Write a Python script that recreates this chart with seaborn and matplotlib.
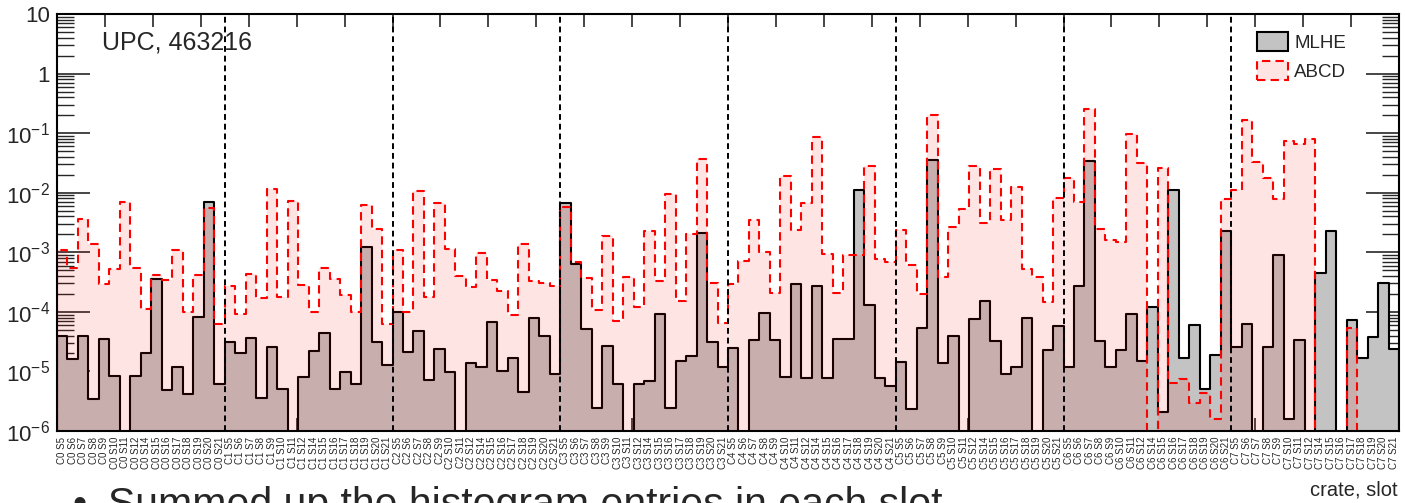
import numpy as np
import pandas as pd
import seaborn as sns
import matplotlib.pyplot as plt
from matplotlib.patches import Patch
from matplotlib.ticker import FixedLocator

# bins: 8 crates x 16 slots
crates = ["C0", "C1", "C2", "C3", "C4", "C5", "C6", "C7"]
slots = ["S5", "S6", "S7", "S8", "S9", "S10", "S11", "S12",
         "S14", "S15", "S16", "S17", "S18", "S19", "S20", "S21"]
labels = [f"{c} {s}" for c in crates for s in slots]

# summed histogram entries per slot (0 = empty bin)
mlhe = [
    4.0e-5, 1.6e-5, 4.0e-5, 3.5e-6, 3.5e-5, 8.5e-6, 0, 8.5e-6, 2.0e-5, 3.6e-4, 4.8e-6, 1.2e-5, 4.2e-6, 8.1e-5, 6.9e-3, 6.2e-6,
    3.1e-5, 2.0e-5, 3.6e-5, 3.6e-6, 2.6e-5, 5.0e-6, 0, 8.0e-6, 2.2e-5, 4.4e-5, 5.0e-6, 9.6e-6, 6.2e-6, 1.25e-3, 3.1e-5, 1.3e-5,
    1.0e-4, 2.1e-5, 4.8e-5, 7.2e-6, 2.4e-5, 9.6e-6, 0, 1.4e-5, 1.2e-5, 6.8e-5, 1.0e-5, 1.7e-5, 4.5e-6, 7.8e-5, 4.0e-5, 9.1e-6,
    6.8e-3, 6.4e-4, 5.2e-5, 2.4e-6, 2.7e-5, 6.1e-6, 0, 6.1e-6, 6.9e-6, 9.1e-5, 2.4e-6, 1.5e-5, 1.8e-5, 2.1e-3, 3.1e-5, 1.2e-5,
    2.5e-5, 0, 3.4e-5, 9.5e-5, 3.4e-5, 8.2e-6, 2.95e-4, 7.7e-6, 2.7e-4, 7.9e-6, 3.5e-5, 3.5e-5, 1.1e-2, 1.28e-4, 7.9e-6, 5.7e-6,
    1.45e-5, 2.3e-6, 5.3e-5, 3.6e-2, 1.4e-5, 4.0e-5, 0, 7.6e-5, 1.5e-4, 3.2e-5, 9.1e-6, 1.2e-5, 7.8e-5, 0, 2.3e-5, 5.8e-5,
    1.17e-5, 2.7e-4, 3.4e-2, 3.2e-5, 1.2e-5, 2.3e-5, 9.1e-5, 1.5e-5, 1.23e-4, 2.1e-6, 1.1e-2, 1.67e-5, 6.0e-5, 5.0e-6, 1.9e-5, 2.3e-3,
    2.6e-5, 6.3e-5, 0, 2.6e-5, 9.1e-4, 1.6e-6, 3.4e-5, 0, 4.5e-4, 2.3e-3, 0, 7.4e-5, 1.67e-5, 3.8e-5, 3.0e-4, 2.4e-5,
]
abcd = [
    1.1e-3, 5.4e-4, 3.6e-3, 1.4e-3, 2.9e-4, 5.3e-4, 7.1e-3, 5.4e-4, 1.1e-4, 4.1e-4, 3.4e-4, 1.1e-3, 1.0e-4, 4.2e-4, 5.5e-3, 6.3e-5,
    2.7e-4, 9.3e-5, 4.4e-4, 1.7e-4, 1.17e-2, 1.8e-4, 7.4e-3, 2.8e-4, 9.8e-5, 5.4e-4, 3.5e-4, 1.9e-4, 1.0e-4, 6.3e-3, 2.5e-3, 6.3e-5,
    1.1e-3, 1.0e-4, 1.07e-2, 1.8e-4, 6.8e-3, 1.15e-3, 4.0e-4, 2.6e-4, 9.7e-4, 3.4e-4, 2.2e-4, 8.9e-5, 1.4e-3, 3.3e-4, 3.0e-4, 2.7e-4,
    5.7e-3, 6.8e-4, 3.7e-4, 1.07e-4, 1.9e-3, 7.1e-5, 3.8e-4, 1.2e-4, 2.3e-3, 3.3e-4, 9.4e-3, 1.5e-4, 2.0e-3, 3.7e-2, 3.1e-4, 6.5e-5,
    2.9e-4, 7.2e-4, 3.5e-3, 1.03e-3, 2.1e-4, 1.9e-2, 2.4e-3, 6.8e-3, 8.7e-2, 9.3e-4, 2.1e-4, 9.1e-4, 9.1e-4, 2.8e-2, 7.6e-4, 6.9e-4,
    2.4e-3, 6.2e-4, 2.0e-4, 0.20, 3.8e-4, 2.7e-3, 5.3e-3, 2.8e-2, 3.1e-3, 2.5e-2, 3.5e-3, 1.26e-2, 5.3e-4, 3.8e-4, 1.44e-4, 8.0e-3,
    1.8e-2, 7.1e-3, 0.25, 2.5e-3, 1.6e-3, 1.5e-3, 9.6e-2, 3.1e-2, 0, 2.6e-2, 6.5e-6, 7.4e-6, 3.0e-6, 4.3e-6, 1.6e-6, 7.8e-3,
    1.09e-2, 0.166, 3.3e-2, 1.8e-2, 7.8e-3, 7.5e-2, 6.6e-2, 8.1e-2, 0, 0, 0, 5.3e-5, 0, 0, 0, 0,
]

df = pd.DataFrame({"bin": np.arange(len(labels)), "label": labels,
                   "MLHE": mlhe, "ABCD": abcd})

sns.set_style("ticks")
plt.rcParams["font.family"] = ["Liberation Sans", "DejaVu Sans"]
plt.rcParams["mathtext.fontset"] = "custom"
plt.rcParams["mathtext.rm"] = "Liberation Sans"
plt.rcParams["mathtext.default"] = "regular"

grey = "#c3c3c3"
pink = (1, 0, 0, 0.105)

fig = plt.figure(figsize=(14.05, 5.03), dpi=100)
ax = fig.add_axes([57 / 1405, 1 - 431 / 503, 1342 / 1405, 417 / 503])

sns.histplot(data=df, x="bin", weights="MLHE", discrete=True, element="step",
             fill=True, facecolor=grey, edgecolor="black", linewidth=1.5, ax=ax)
sns.histplot(data=df, x="bin", weights="ABCD", discrete=True, element="step",
             fill=True, facecolor=pink, edgecolor="red", linewidth=1.5,
             linestyle=(0, (4, 2.5)), ax=ax)

ax.set_yscale("log")
ax.set_ylim(1e-6, 10)
ax.set_xlim(-0.5, len(labels) - 0.5)
ax.set_xlabel("")
ax.set_ylabel("")

# crate separators
for k in range(1, len(crates)):
    ax.axvline(k * len(slots) - 0.5, color="black", lw=1.4, ls=(0, (3, 2)))

# x axis: slot labels + ROOT-style division ticks
ax.set_xticks(df["bin"])
ax.set_xticklabels(labels, rotation=90, fontsize=7, va="top", ha="center")
ax.tick_params(axis="x", which="major", length=0, pad=4)
ax.xaxis.set_minor_locator(FixedLocator(np.arange(1, 28) * len(labels) / 28 - 0.5))
ax.tick_params(axis="x", which="minor", direction="in", length=9.5, width=1.2,
               top=True, bottom=True)

# y axis
yt = [1e-6, 1e-5, 1e-4, 1e-3, 1e-2, 1e-1, 1, 10]
ax.set_yticks(yt)
ax.set_yticklabels(["$10^{-6}$", "$10^{-5}$", "$10^{-4}$", "$10^{-3}$",
                    "$10^{-2}$", "$10^{-1}$", "1", "10"])
ax.tick_params(axis="y", which="major", direction="in", length=24, width=1.2,
               left=True, right=True, labelsize=16, pad=5)
ax.tick_params(axis="y", which="minor", direction="in", length=12, width=1.0,
               left=True, right=True)

for sp in ax.spines.values():
    sp.set_linewidth(1.5)
    sp.set_color("black")

ax.text(0.0335, 0.932, "UPC, 463216", transform=ax.transAxes, fontsize=18,
        va="center", ha="left")

handles = [Patch(facecolor=grey, edgecolor="black", linewidth=1.5, label="MLHE"),
           Patch(facecolor=pink, edgecolor="red", linewidth=1.5,
                 linestyle=(0, (4, 2.5)), label="ABCD")]
ax.legend(handles=handles, loc="upper left", bbox_to_anchor=(0.894, 0.957),
          frameon=False, fontsize=13.5, handlelength=1.65, handleheight=1.17,
          handletextpad=0.35, labelspacing=0.5, borderpad=0, borderaxespad=0)

fig.text(1398 / 1405, 1 - 490 / 503, "crate, slot", ha="right", va="center",
         fontsize=14.5)

# slide text cut off at the bottom
fig.text(72 / 1405, -0.026, "\u2022", fontsize=29, va="baseline", ha="left")
fig.text(108 / 1405, -0.026, "Summed up the histogram entries in each slot",
         fontsize=29.5, va="baseline", ha="left")

fig.savefig("out.png", dpi=100)
